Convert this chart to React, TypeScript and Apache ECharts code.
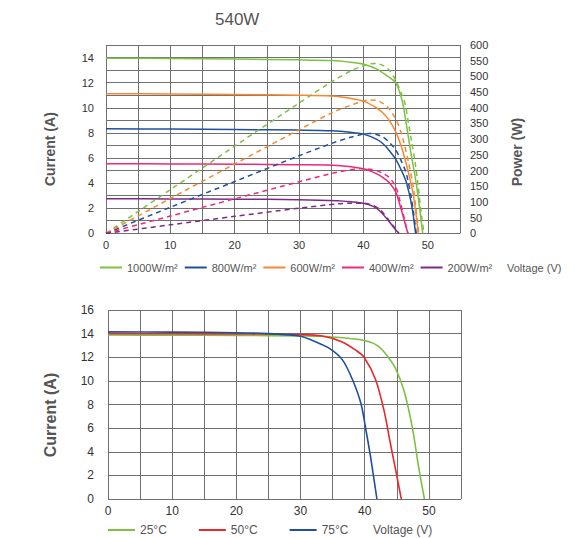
import { useEffect, useRef } from 'react';
import * as echarts from 'echarts';

const FONT = 'Liberation Sans, Arial, Helvetica, sans-serif';

const titleText = '540W';
const irradianceLabels = ['1000W/m²', '800W/m²', '600W/m²', '400W/m²', '200W/m²'];
const temperatureLabels = ['25°C', '50°C', '75°C'];
const voltageAxisName = 'Voltage (V)';
const currentAxisName = 'Current (A)';
const powerAxisName = 'Power (W)';

// ---- Top chart: I-V curves (A) ----
const ivV1000 = [0, 10, 20, 30, 35, 38, 40, 42, 43.5, 45, 46, 46.5, 47, 47.5, 48, 48.5, 49.2];
const ivI1000 = [13.95, 13.93, 13.88, 13.82, 13.76, 13.62, 13.46, 13.1, 12.6, 12.0, 10.6, 9.2, 7.6, 6.0, 4.6, 2.9, 0];
const ivV800 = [0, 10, 20, 30, 35, 38, 40, 42, 43, 44, 45, 46, 46.7, 47.5, 48.1];
const ivI800 = [8.32, 8.3, 8.27, 8.22, 8.17, 8.05, 7.9, 7.5, 7.15, 6.6, 5.9, 4.9, 4.0, 2.2, 0];
const ivV600 = [0, 10, 20, 30, 35, 38, 40, 42, 43, 44, 45, 45.7, 46.3, 47, 47.7, 48.1, 48.5];
const ivI600 = [11.12, 11.1, 11.06, 11.0, 10.93, 10.75, 10.53, 10.0, 9.6, 9.0, 8.1, 7.2, 6.2, 4.8, 3.2, 1.8, 0];
const ivV400 = [0, 10, 20, 30, 36, 40, 42, 43, 44, 45, 45.7, 46.3, 46.9];
const ivI400 = [5.55, 5.53, 5.5, 5.47, 5.41, 5.14, 4.75, 4.45, 4.05, 3.3, 2.2, 1.1, 0];
const ivV200 = [0, 10, 20, 30, 36, 38, 40, 41.5, 42.5, 43.8, 44.9, 45.5];
const ivI200 = [2.75, 2.74, 2.72, 2.68, 2.6, 2.52, 2.4, 2.15, 1.8, 1.06, 0.35, 0];

// ---- Top chart: P-V curves (W) ----
const pvV1000 = [0, 10, 20, 30, 35, 38, 40, 41, 42, 43, 44, 45, 46, 46.5, 47, 47.5, 48, 48.5, 49, 49.4];
const pvP1000 = [0, 139, 278, 415, 482, 517, 534, 540, 541, 535, 520, 488, 440, 410, 350, 290, 230, 150, 60, 0];
const pvV800 = [0, 10, 20, 30, 35, 38, 40, 41, 42, 43, 44, 45, 46, 46.7, 47.5, 48.2];
const pvP800 = [0, 83, 165, 247, 286, 306, 316, 318, 315, 307, 290, 266, 225, 187, 105, 0];
const pvV600 = [0, 10, 20, 30, 35, 38, 40, 41, 42, 43, 44, 45, 45.7, 46.3, 47, 47.7, 48.1, 48.6];
const pvP600 = [0, 111, 221, 330, 383, 408, 421, 425, 424, 414, 396, 365, 330, 287, 226, 153, 87, 0];
const pvV400 = [0, 10, 20, 30, 36, 40, 41, 42, 43, 44, 45, 45.7, 46.3, 46.9];
const pvP400 = [0, 55, 110, 164, 195, 206, 204, 200, 191, 178, 149, 101, 51, 0];
const pvV200 = [0, 10, 20, 30, 36, 38, 40, 41.5, 42.5, 43.8, 44.9, 45.5];
const pvP200 = [0, 27, 54, 80, 94, 96, 96, 89, 77, 46, 16, 0];

// ---- Bottom chart: I-V vs temperature ----
const tV25 = [0, 10, 20, 30, 35, 40, 42.2, 43.8, 44.8, 46.1, 47.4, 48.4, 49.3];
const tI25 = [13.88, 13.87, 13.85, 13.8, 13.72, 13.42, 12.9, 11.9, 11.06, 9.2, 6.1, 2.7, 0];
const tV50 = [0, 10, 20, 30, 33.4, 36.5, 38.6, 39.9, 41.7, 43, 44, 44.8, 45.7];
const tI50 = [14.0, 13.99, 13.97, 13.92, 13.8, 13.3, 12.6, 12.0, 10.1, 7.5, 4.7, 2.5, 0];
const tV75 = [0, 10, 20, 25, 29.8, 32.4, 34.5, 36.5, 38.1, 39.4, 40.2, 40.9, 41.9];
const tI75 = [14.15, 14.13, 14.08, 14.0, 13.8, 13.3, 12.75, 11.8, 10.1, 8.1, 5.8, 3.6, 0];

const zip = (xs: number[], ys: number[]) => xs.map((x, k) => [x, ys[k]]);

const irrColors = ['#7cc142', '#1f4f9f', '#f7882f', '#ec297b', '#7d2a86'];
const tempColors = ['#7cc142', '#e8282b', '#1f4f9f'];

const ivSets = [
  [ivV1000, ivI1000],
  [ivV800, ivI800],
  [ivV600, ivI600],
  [ivV400, ivI400],
  [ivV200, ivI200],
];
const pvSets = [
  [pvV1000, pvP1000],
  [pvV800, pvP800],
  [pvV600, pvP600],
  [pvV400, pvP400],
  [pvV200, pvP200],
];
const tempSets = [
  [tV25, tI25],
  [tV50, tI50],
  [tV75, tI75],
];

const GRID_COLOR = '#707070';

export default function App() {
  const ref = useRef<HTMLDivElement>(null);

  useEffect(() => {
    if (!ref.current) return;
    const chart = echarts.init(ref.current, undefined, { renderer: 'svg' });

    const lineBase = {
      type: 'line' as const,
      showSymbol: false,
      symbol: 'none',
      smooth: 0.3,
      silent: true,
    };

    const series: any[] = [];
    ivSets.forEach(([v, i], k) => {
      series.push({
        ...lineBase,
        name: irradianceLabels[k],
        xAxisIndex: 0,
        yAxisIndex: 0,
        color: irrColors[k],
        lineStyle: { color: irrColors[k], width: 1.5 },
        data: zip(v, i),
        z: 3,
      });
    });
    pvSets.forEach(([v, p], k) => {
      series.push({
        ...lineBase,
        name: irradianceLabels[k],
        xAxisIndex: 0,
        yAxisIndex: 1,
        color: irrColors[k],
        lineStyle: { color: irrColors[k], width: 1.5, type: [5, 4] },
        data: zip(v, p),
        z: 3,
      });
    });
    tempSets.forEach(([v, i], k) => {
      series.push({
        ...lineBase,
        name: temperatureLabels[k],
        xAxisIndex: 1,
        yAxisIndex: 2,
        color: tempColors[k],
        lineStyle: { color: tempColors[k], width: 1.6 },
        data: zip(v, i),
        z: 3,
      });
    });

    const xLabelFmt = (val: number) => (val % 10 === 0 ? String(val) : '');
    const yLabelFmt = (val: number) => (val % 2 === 0 ? String(val) : '');

    chart.setOption({
      animation: false,
      backgroundColor: '#ffffff',
      textStyle: { fontFamily: FONT },
      title: {
        text: titleText,
        left: 215,
        top: 11,
        padding: 0,
        textStyle: { fontSize: 17, fontWeight: 'normal', color: '#555', fontFamily: FONT },
      },
      legend: [
        {
          data: irradianceLabels,
          left: 100,
          top: 262,
          padding: 0,
          icon: 'rect',
          itemWidth: 22,
          itemHeight: 2,
          itemGap: 7,
          selectedMode: false,
          textStyle: { fontSize: 11, color: '#555', fontFamily: FONT },
        },
        {
          data: temperatureLabels,
          left: 108,
          top: 524,
          padding: 0,
          icon: 'rect',
          itemWidth: 27,
          itemHeight: 2,
          itemGap: 32,
          selectedMode: false,
          textStyle: { fontSize: 12, color: '#555', fontFamily: FONT },
        },
      ],
      grid: [
        { left: 106, top: 45, width: 354, height: 188.3 },
        { left: 108, top: 310, width: 353, height: 189 },
      ],
      xAxis: [
        {
          type: 'value',
          gridIndex: 0,
          min: 0,
          max: 55,
          interval: 5,
          axisLine: { show: false },
          axisTick: { show: false },
          axisLabel: { margin: 6, fontSize: 11, color: '#333', fontFamily: FONT, formatter: xLabelFmt },
          splitLine: { show: true, lineStyle: { color: GRID_COLOR, width: 1 } },
        },
        {
          type: 'value',
          gridIndex: 1,
          min: 0,
          max: 55,
          interval: 5,
          axisLine: { show: false },
          axisTick: { show: false },
          axisLabel: { margin: 6, fontSize: 12, color: '#333', fontFamily: FONT, formatter: xLabelFmt },
          splitLine: { show: true, lineStyle: { color: GRID_COLOR, width: 1 } },
        },
      ],
      yAxis: [
        {
          type: 'value',
          gridIndex: 0,
          position: 'left',
          min: 0,
          max: 15,
          interval: 1,
          name: currentAxisName,
          nameLocation: 'middle',
          nameGap: 49,
          nameTextStyle: { fontSize: 14, fontWeight: 'bold', color: '#555', fontFamily: FONT, padding: [0, 20, 0, 0] },
          axisLine: { show: false },
          axisTick: { show: false },
          axisLabel: { margin: 12, fontSize: 11, color: '#333', fontFamily: FONT, formatter: yLabelFmt },
          splitLine: {
            show: true,
            lineStyle: { color: GRID_COLOR, width: 1 },
            interval: (idx: number) => idx % 2 === 0 || idx === 15,
          },
        },
        {
          type: 'value',
          gridIndex: 0,
          position: 'right',
          min: 0,
          max: 600,
          interval: 50,
          name: powerAxisName,
          nameLocation: 'middle',
          nameGap: 50,
          nameTextStyle: { fontSize: 14, fontWeight: 'bold', color: '#555', fontFamily: FONT, padding: [0, 26, 0, 0] },
          axisLine: { show: false },
          axisTick: { show: false },
          axisLabel: { margin: 10, fontSize: 11, color: '#333', fontFamily: FONT },
          splitLine: { show: false },
        },
        {
          type: 'value',
          gridIndex: 1,
          position: 'left',
          min: 0,
          max: 16,
          interval: 2,
          name: currentAxisName,
          nameLocation: 'middle',
          nameGap: 50,
          nameTextStyle: { fontSize: 16, fontWeight: 'bold', color: '#555', fontFamily: FONT, padding: [0, 21, 0, 0] },
          axisLine: { show: false },
          axisTick: { show: false },
          axisLabel: { margin: 14, fontSize: 12, color: '#333', fontFamily: FONT },
          splitLine: { show: true, lineStyle: { color: GRID_COLOR, width: 1 } },
        },
      ],
      graphic: [
        {
          type: 'text',
          left: 507,
          top: 262,
          silent: true,
          style: { text: voltageAxisName, fontSize: 11, fill: '#555', fontFamily: FONT },
        },
        {
          type: 'text',
          left: 373,
          top: 524,
          silent: true,
          style: { text: voltageAxisName, fontSize: 12, fill: '#555', fontFamily: FONT },
        },
      ],
      series,
    });

    return () => {
      chart.dispose();
    };
  }, []);

  return (
    <div
      ref={ref}
      style={{ position: 'absolute', left: 0, top: 0, width: 588, height: 538, background: '#fff' }}
    />
  );
}
